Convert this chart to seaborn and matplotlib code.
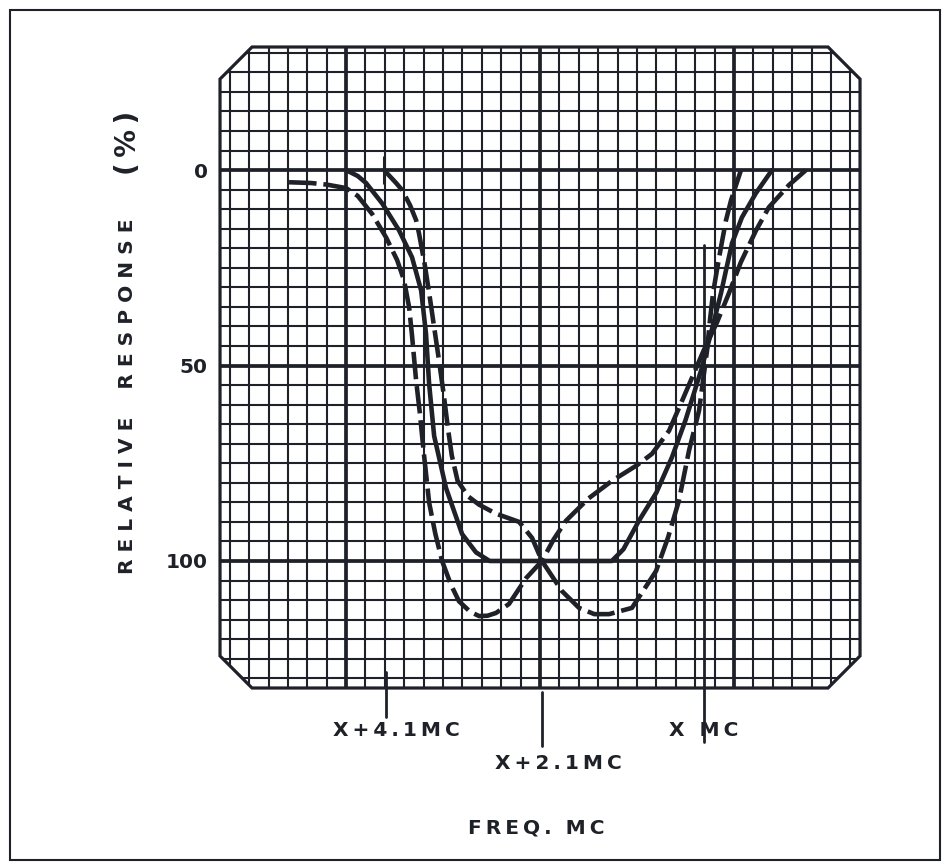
import numpy as np
import matplotlib
matplotlib.use("Agg")
from matplotlib import pyplot as plt
from matplotlib.patches import Polygon, Rectangle
import seaborn as sns

# krzywe: x w kratkach siatki od srodka, y w % odpowiedzi
solid_x = [-10.0, -9.4, -8.97, -8.14, -7.27, -6.6, -6.13, -5.88, -5.72, -5.46,
           -4.85, -4.02, -3.3, -2.6, 3.7, 4.3, 5.1, 6.0, 6.8, 7.5, 8.35, 8.85,
           9.33, 9.59, 9.9, 10.41, 11.13, 11.96]
solid_y = [0, 1.5, 3.3, 8.5, 15.4, 22.3, 30.8, 41.8, 54.6, 68.0,
           81.3, 93.1, 97.8, 100, 100, 97.0, 89.7, 82.5, 73.5, 64.0, 50.5, 41.0,
           31.5, 25.6, 18.7, 12.1, 5.9, 0]

dash_a_x = [-12.94, -11.8, -11.0, -10.0, -9.4, -8.66, -7.94, -7.37, -7.01, -6.75,
            -6.6, -6.39, -6.2, -6.0, -5.72, -5.4, -5.05, -4.6, -4.18, -3.6,
            -3.14, -2.7, -2.27, -1.6, -0.72, 0.1, 0.7, 1.34, 2.5, 3.71,
            5.0, 5.77, 6.65, 7.37, 8.45, 9.12, 9.74, 10.36, 11.13, 11.8,
            12.84, 13.71]
dash_a_y = [3.1, 3.3, 3.7, 4.6, 6.6, 11.2, 17.2, 23.0, 28.2, 35.1,
            42.3, 53.8, 62.0, 72.0, 85.0, 93.0, 100.0, 106.0, 110.3, 113.0,
            114.1, 114.0, 113.3, 111.0, 104.4, 100.0, 94.5, 89.7, 84.0, 79.5,
            75.5, 72.6, 66.7, 58.5, 46.0, 39.0, 31.5, 23.5, 15.5, 9.5,
            3.8, 0]

dash_b_x = [-8.04, -7.42, -7.11, -6.7, -6.39, -6.24, -5.95, -5.7, -5.45, -5.2,
            -4.95, -4.75, -4.55, -4.25, -3.7, -3.14, -2.27, -1.08, -0.41, 0.1,
            1.13, 2.01, 2.8, 3.56, 4.74, 5.98, 6.6, 7.16, 7.68, 8.2,
            8.61, 8.76, 8.92, 9.12, 9.33, 9.59, 9.85, 10.36]
dash_b_y = [0, 3.3, 5.1, 9.0, 12.8, 16.2, 24.0, 32.0, 40.5, 49.0,
            58.0, 66.0, 73.0, 79.5, 83.5, 85.6, 87.9, 90.0, 94.1, 100.0,
            107.7, 112.0, 113.6, 113.6, 112.0, 102.6, 94.0, 84.6, 71.8, 61.5,
            46.2, 38.5, 31.5, 25.6, 19.7, 12.8, 7.7, 0]

# znaczniki czestotliwosci pod siatka
marker_labels = ["X+4.1MC", "X+2.1MC", "X MC"]
marker_x = [-7.94, 0.1, 8.45]
marker_top = [128.5, 133.6, 19.2]
marker_bottom = [140.0, 147.4, 146.2]
label_x = [-7.42, 0.93, 8.45]
label_y = [143.3, 151.8, 143.3]

y_ticks = [0, 50, 100]
y_tick_labels = ["0", "50", "100"]

sns.set_theme(style="white")
plt.rcParams["font.family"] = ["DejaVu Sans"]
plt.rcParams["font.weight"] = "bold"

ink = "#1f2129"


def spaced(s, sep="\u2009"):
    return sep.join(s)


fig = plt.figure(figsize=(9.5, 8.64), dpi=100)
fig.patch.set_facecolor("white")
ax = fig.add_axes([0.2316, 0.2037, 0.6737, 0.7419])
x0, x1, y0, y1 = -16.5, 16.5, -31.5, 132.5
ax.set_xlim(x0, x1)
ax.set_ylim(y1, y0)
ax.set_facecolor("white")

# osmiokatna ramka siatki
cx, cy = 1.65, 8.2
octagon_pts = [(x0 + cx, y0), (x1 - cx, y0), (x1, y0 + cy), (x1, y1 - cy),
               (x1 - cx, y1), (x0 + cx, y1), (x0, y1 - cy), (x0, y0 + cy)]
octagon = Polygon(octagon_pts, closed=True, fill=False, edgecolor=ink,
                  lw=2.3, clip_on=False, zorder=3)
ax.add_patch(octagon)

fine_v = [v for v in range(-16, 17) if v % 10 != 0]
fine_h = [h for h in range(-30, 131, 5) if h % 50 != 0]
for lines in [
    ax.vlines(fine_v, y0, y1, colors=ink, lw=1.5, zorder=1),
    ax.hlines(fine_h, x0, x1, colors=ink, lw=1.5, zorder=1),
    ax.vlines([-10, 0, 10], y0, y1, colors=ink, lw=2.7, zorder=1),
    ax.hlines([0, 50, 100], x0, x1, colors=ink, lw=2.7, zorder=1),
]:
    lines.set_clip_path(octagon)

# krzywe odpowiedzi
sns.lineplot(x=solid_x, y=solid_y, ax=ax, color=ink, lw=3.3, sort=False,
             estimator=None, zorder=4)
for xs, ys in [(dash_a_x, dash_a_y), (dash_b_x, dash_b_y)]:
    sns.lineplot(x=xs, y=ys, ax=ax, color=ink, lw=3.3, sort=False,
                 estimator=None, linestyle=(0, (6, 1.5)), zorder=4)
ax.plot([dash_b_x[0], dash_b_x[0]], [-3.3, 3.3], color=ink, lw=2.2, zorder=4)

for mx, mt, mb in zip(marker_x, marker_top, marker_bottom):
    ax.plot([mx, mx], [mt, mb], color=ink, lw=2.0, clip_on=False, zorder=4)
for lab, lx, ly in zip(marker_labels, label_x, label_y):
    ax.text(lx, ly, spaced(lab), ha="center", va="center", fontsize=14.5,
            fontweight="bold", color=ink, clip_on=False)

ax.set_xticks([])
ax.set_yticks(y_ticks)
ax.set_yticklabels(y_tick_labels)
ax.tick_params(axis="y", length=0, pad=9, labelsize=14.5, labelcolor=ink)
for s in ax.spines.values():
    s.set_visible(False)
ax.set_xlabel("")
ax.set_ylabel("")

fig.text(0.1347, 0.5417, " ".join("RELATIVE") + "    " + " ".join("RESPONSE"),
         rotation=90, ha="center", va="center", fontsize=14.5,
         fontweight="bold", color=ink)
fig.text(0.1347, 0.835, "(\u2009%\u2009)", rotation=90, ha="center",
         va="center", fontsize=20, fontweight="bold", color=ink)
fig.text(0.564, 0.0417, spaced("FREQ.") + "  " + spaced("MC"), ha="center",
         va="center", fontsize=14.5, fontweight="bold", color=ink)

# ramka calej strony
fig.add_artist(Rectangle((10 / 950, 4 / 864), 930 / 950, 850 / 864,
                         transform=fig.transFigure, fill=False,
                         edgecolor=ink, lw=1.5))

fig.savefig("out.png", dpi=100, facecolor="white")
